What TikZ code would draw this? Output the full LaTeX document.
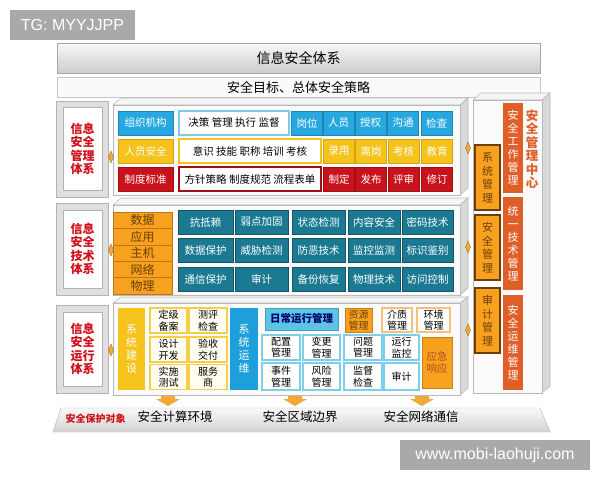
\documentclass[tikz,border=0pt]{standalone}
\usepackage{fontspec}
\setmainfont{Noto Sans CJK SC}
\newfontfamily\wmfont{Liberation Sans}

\definecolor{cellblue}{HTML}{27A8E0}
\definecolor{cellyellow}{HTML}{F6C21C}
\definecolor{cellred}{HTML}{C8121C}
\definecolor{cellteal}{HTML}{1B7A92}
\definecolor{cellorange}{HTML}{F7A11E}
\definecolor{barorange}{HTML}{E05F28}
\definecolor{sysblue}{HTML}{1C9FDA}
\definecolor{lightblue}{HTML}{5CC4E6}
\definecolor{tagred}{HTML}{D0101A}
\definecolor{arrowtan}{HTML}{F0A838}
\definecolor{darkbrown}{HTML}{6B3E0C}
\definecolor{wmgray}{HTML}{A9A9A9}

\tikzset{
  cell/.style={inner sep=0pt, outer sep=0pt, font=\fontsize{10.5}{12}\selectfont},
  bcell/.style={cell, fill=cellblue, draw=cellblue!80!black, text=white, minimum width=31, minimum height=24},
  ycell/.style={cell, fill=cellyellow, draw=cellyellow!85!black, text=white, minimum width=31, minimum height=24},
  rcell/.style={cell, fill=cellred, draw=cellred!80!black, text=white, minimum width=31, minimum height=24},
  wbox/.style={cell, fill=white, line width=1.2pt, text=black, minimum height=24},
  tcell/.style={cell, fill=cellteal, draw=cellteal!70!black, text=white, minimum height=24},
  stack/.style={cell, fill=cellorange, draw=cellorange!75!black, text=darkbrown, font=\fontsize{12}{13}\selectfont, minimum width=59, minimum height=16.4},
  gcell/.style={cell, fill=yellow!6, draw=cellyellow!80, line width=1.3pt, text=black, align=center, font=\fontsize{10}{11.5}\selectfont, minimum height=25},
  opcell/.style={cell, fill=white, draw=lightblue!80, line width=1.3pt, text=black, align=center, font=\fontsize{10}{11.5}\selectfont, minimum height=25},
  vbar/.style={cell, text=white, align=center, font=\fontsize{11}{13}\selectfont},
  mgmt/.style={cell, fill=cellorange, draw=darkbrown, line width=1.5pt, text=darkbrown, align=center, font=\fontsize{11}{13.5}\selectfont, minimum width=25, minimum height=65},
  ltag/.style={text=tagred, align=center, font=\bfseries\fontsize{12}{13.5}\selectfont},
  lframe/.style={fill=gray!25, draw=gray!60, line width=0.8pt},
  ptop/.style={fill=gray!8, draw=gray!55, line width=0.6pt},
  pside/.style={fill=gray!30, draw=gray!55, line width=0.6pt},
  pfront/.style={fill=gray!3, draw=gray!55, line width=0.6pt},
  joint/.style={fill=arrowtan, draw=arrowtan!60!black, line width=0.3pt},
  wmark/.style={fill=wmgray, text=white, inner sep=0pt, font=\wmfont\fontsize{16}{18}\selectfont}
}

\begin{document}
\begin{tikzpicture}[x=1pt, y=-1pt]
            \useasboundingbox[fill=white] (0,0) rectangle (600,480);

            % title bars
            \node[cell, top color=gray!6, bottom color=gray!40, draw=gray!70, font=\fontsize{14}{16}\selectfont, minimum width=483, minimum height=30] (title) at (298.5,58) {信息安全体系};
            \node[cell, fill=gray!4, draw=gray!45, font=\fontsize{13}{15}\selectfont, minimum width=483, minimum height=20] (target) at (298.5,87) {安全目标、总体安全策略};

            % left label boxes
            \filldraw[lframe] (56,101) rectangle (108,197);
            \filldraw[fill=white, draw=gray!60] (63,107) rectangle (102,190);
            \node[ltag] (mgmttag) at (82.5,149) {信息\\安全\\管理\\体系};

            \filldraw[lframe] (56,203) rectangle (108,295);
            \filldraw[fill=white, draw=gray!60] (63,210) rectangle (102,288);
            \node[ltag] (techtag) at (82.5,249) {信息\\安全\\技术\\体系};

            \filldraw[lframe] (56,305) rectangle (108,393);
            \filldraw[fill=white, draw=gray!60] (63,312) rectangle (102,386);
            \node[ltag] (opstag) at (82.5,349) {信息\\安全\\运行\\体系};

            % draw 3d panels
            \filldraw[ptop] (113,105) -- (121,98) -- (468,98) -- (460,105) -- cycle;
            \filldraw[pside] (460,105) -- (468,98) -- (468,188) -- (460,195) -- cycle;
            \filldraw[pfront] (113,105) rectangle (460,195);

            \filldraw[ptop] (113,205) -- (121,198) -- (468,198) -- (460,205) -- cycle;
            \filldraw[pside] (460,205) -- (468,198) -- (468,288) -- (460,295) -- cycle;
            \filldraw[pfront] (113,205) rectangle (460,295);

            \filldraw[ptop] (113,303) -- (121,297) -- (468,297) -- (460,303) -- cycle;
            \filldraw[pside] (460,303) -- (468,297) -- (468,388) -- (460,395) -- cycle;
            \filldraw[pfront] (113,303) rectangle (460,395);

            \filldraw[ptop] (473,100) -- (481,93) -- (550,93) -- (542,100) -- cycle;
            \filldraw[pside] (542,100) -- (550,93) -- (550,386) -- (542,393) -- cycle;
            \filldraw[pfront] (473,100) rectangle (542,393);

            % small joints between boxes
            \filldraw[joint] (111,151) -- (113.5,157) -- (111,163) -- (108.5,157) -- cycle;
            \filldraw[joint] (111,244) -- (113.5,250) -- (111,256) -- (108.5,250) -- cycle;
            \filldraw[joint] (111,344) -- (113.5,350) -- (111,356) -- (108.5,350) -- cycle;
            \filldraw[joint] (468,142) -- (470.5,148) -- (468,154) -- (465.5,148) -- cycle;
            \filldraw[joint] (468,241) -- (470.5,247) -- (468,253) -- (465.5,247) -- cycle;
            \filldraw[joint] (468,324) -- (470.5,330) -- (468,336) -- (465.5,330) -- cycle;

            % management rows
            \node[bcell, minimum width=55] (zzjg) at (145.5,123) {组织机构};
            \node[wbox, draw=cellblue!60, minimum width=110] (jcgl) at (234,123) {决策 管理 执行 监督};
            \node[bcell] (gw) at (307,123) {岗位};
            \node[bcell] (ry) at (338.5,123) {人员};
            \node[bcell] (sq) at (370.5,123) {授权};
            \node[bcell] (gt) at (403,123) {沟通};
            \node[bcell] (jc) at (436.5,123) {检查};

            \node[ycell, minimum width=55] (ryaq) at (145.5,151) {人员安全};
            \node[wbox, draw=cellyellow, minimum width=142] (yszn) at (250,151) {意识 技能 职称 培训 考核};
            \node[ycell] (ly) at (339,151) {录用};
            \node[ycell] (lg) at (371,151) {离岗};
            \node[ycell] (kh) at (403.5,151) {考核};
            \node[ycell] (jy) at (437,151) {教育};

            \node[rcell, minimum width=55] (zdbz) at (145.5,179) {制度标准};
            \node[wbox, draw=cellred!80!black, minimum width=142] (fzcl) at (250,179) {方针策略 制度规范 流程表单};
            \node[rcell] (zd) at (339,179) {制定};
            \node[rcell] (fb) at (371,179) {发布};
            \node[rcell] (ps) at (403.5,179) {评审};
            \node[rcell] (xd) at (437,179) {修订};

            % technical layers and cells
            \node[stack] (data) at (142.5,220.2) {数据};
            \node[stack] (app) at (142.5,236.6) {应用};
            \node[stack] (host) at (142.5,253) {主机};
            \node[stack] (net) at (142.5,269.4) {网络};
            \node[stack] (phys) at (142.5,285.8) {物理};

            \node[tcell, minimum width=55] (kdl) at (205.5,222) {抗抵赖};
            \node[tcell, minimum width=53] (rdjg) at (261.5,222) {弱点加固};
            \node[tcell, minimum width=53] (ztjc) at (318.5,222) {状态检测};
            \node[tcell, minimum width=52] (nraq) at (374,222) {内容安全};
            \node[tcell, minimum width=51] (mmjs) at (427.5,222) {密码技术};

            \node[tcell, minimum width=55] (sjbh) at (205.5,250.5) {数据保护};
            \node[tcell, minimum width=53] (wxjc) at (261.5,250.5) {威胁检测};
            \node[tcell, minimum width=53] (fejs) at (318.5,250.5) {防恶技术};
            \node[tcell, minimum width=52] (jkjc) at (374,250.5) {监控监测};
            \node[tcell, minimum width=51] (bsjb) at (427.5,250.5) {标识鉴别};

            \node[tcell, minimum width=55] (txbh) at (205.5,279.5) {通信保护};
            \node[tcell, minimum width=53] (audit) at (261.5,279.5) {审计};
            \node[tcell, minimum width=53] (bfhf) at (318.5,279.5) {备份恢复};
            \node[tcell, minimum width=52] (wljs) at (374,279.5) {物理技术};
            \node[tcell, minimum width=51] (fwkz) at (427.5,279.5) {访问控制};

            % operation part
            \node[vbar, fill=cellyellow, minimum width=27, minimum height=82] (xtjs) at (131.5,349) {系\\统\\建\\设};
            \node[gcell, minimum width=37] (djba) at (168.5,320.5) {定级\\备案};
            \node[gcell, minimum width=38] (cpjc) at (208,320.5) {测评\\检查};
            \node[gcell, minimum width=37] (sjkf) at (168.5,349.5) {设计\\开发};
            \node[gcell, minimum width=38] (ysjf) at (208,349.5) {验收\\交付};
            \node[gcell, minimum width=37] (sscs) at (168.5,377) {实施\\测试};
            \node[gcell, minimum width=38] (fws) at (208,377) {服务\\商};

            \node[vbar, fill=sysblue, minimum width=28, minimum height=82] (xtyw) at (244,349) {系\\统\\运\\维};
            \node[cell, fill=lightblue, draw=lightblue!80!black, text=blue!40!black, font=\bfseries\fontsize{10.5}{12}\selectfont, minimum width=73, minimum height=22] (rcyx) at (301.5,319) {日常运行管理};
            \node[cell, fill=cellorange, draw=cellorange!80!black, text=darkbrown, align=center, font=\fontsize{10}{11.5}\selectfont, minimum width=27, minimum height=24] (zygl) at (358.5,320) {资源\\管理};
            \node[opcell, draw=arrowtan!70, minimum width=30, minimum height=24] (jzgl) at (397,320) {介质\\管理};
            \node[opcell, draw=arrowtan!70, minimum width=33, minimum height=24] (hjgl) at (433.5,320) {环境\\管理};

            \node[opcell, minimum width=38] (pzgl) at (281,347.5) {配置\\管理};
            \node[opcell, minimum width=37] (bggl) at (321.5,347.5) {变更\\管理};
            \node[opcell, minimum width=38] (wtgl) at (363,347.5) {问题\\管理};
            \node[opcell, minimum width=35] (yxjk) at (401.5,347.5) {运行\\监控};
            \node[opcell, minimum width=38, minimum height=27] (sjgl) at (281,376.5) {事件\\管理};
            \node[opcell, minimum width=37, minimum height=27] (fxgl) at (321.5,376.5) {风险\\管理};
            \node[opcell, minimum width=38, minimum height=27] (jdjc) at (363,376.5) {监督\\检查};
            \node[opcell, minimum width=35, minimum height=27] (yxsj) at (401.5,376.5) {审计};
            \node[cell, fill=cellorange, draw=cellorange!80!black, text=barorange!80!black, align=center, font=\fontsize{10.5}{12}\selectfont, minimum width=30, minimum height=51] (yjxy) at (437,362.5) {应急\\响应};

            % right management center
            \node[mgmt] (xtgl) at (487.5,177.5) {系\\统\\管\\理};
            \node[mgmt] (aqgl) at (487.5,247.5) {安\\全\\管\\理};
            \node[mgmt] (sjgl2) at (487.5,320.5) {审\\计\\管\\理};
            \node[vbar, fill=barorange, minimum width=20, minimum height=90] (aqgz) at (513,148) {安\\全\\工\\作\\管\\理};
            \node[vbar, fill=barorange, minimum width=20, minimum height=93] (tyjs) at (513,243.5) {统\\一\\技\\术\\管\\理};
            \node[vbar, fill=barorange, minimum width=20, minimum height=95] (aqyw) at (513,342.5) {安\\全\\运\\维\\管\\理};
            \node[text=barorange, align=center, inner sep=0pt, font=\bfseries\fontsize{12.5}{13.5}\selectfont] (center) at (532,149) {安\\全\\管\\理\\中\\心};

            % down arrows
            \fill[arrowtan] (161,396) -- (175,396) -- (175,399) -- (180,399) -- (168,406) -- (156,399) -- (161,399) -- cycle;
            \fill[arrowtan] (288,396) -- (302,396) -- (302,399) -- (307,399) -- (295,406) -- (283,399) -- (288,399) -- cycle;
            \fill[arrowtan] (415,396) -- (429,396) -- (429,399) -- (434,399) -- (422,406) -- (410,399) -- (415,399) -- cycle;

            % bottom bar
            \shade[top color=gray!5, bottom color=gray!35, draw=gray!60] (61,408) -- (540,408) -- (550,432) -- (53,432) -- cycle;
            \node[text=tagred, inner sep=0pt, font=\bfseries\fontsize{10}{12}\selectfont] (target2) at (95.5,418.5) {安全保护对象};
            \node[inner sep=0pt, font=\fontsize{12.5}{14}\selectfont] (env) at (175,417) {安全计算环境};
            \node[inner sep=0pt, font=\fontsize{12.5}{14}\selectfont] (border) at (300,417) {安全区域边界};
            \node[inner sep=0pt, font=\fontsize{12.5}{14}\selectfont] (comm) at (421,417) {安全网络通信};

            % watermarks
            \node[wmark, minimum width=125, minimum height=30] (tg) at (72.5,25) {TG: MYYJJPP};
            \node[wmark, minimum width=190, minimum height=30] (site) at (495,455) {www.mobi-laohuji.com};
        \end{tikzpicture}
\end{document}
